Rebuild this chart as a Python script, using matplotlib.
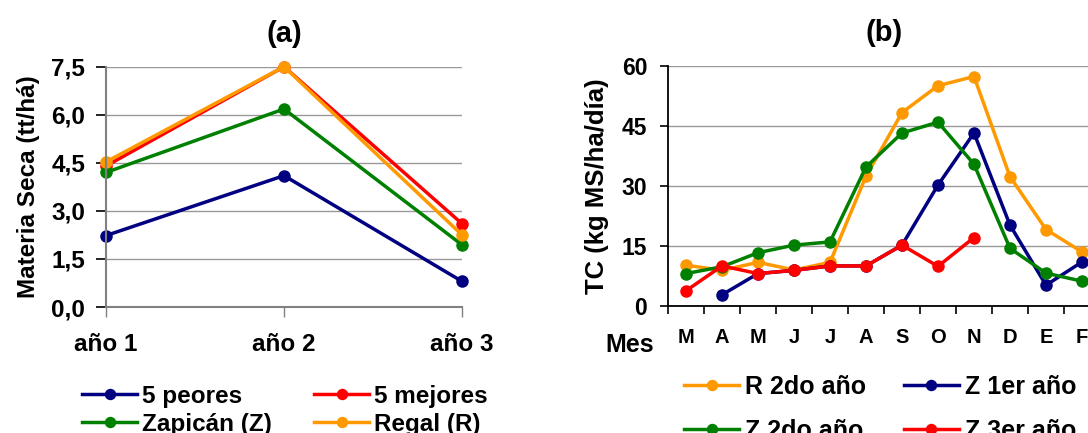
import matplotlib
matplotlib.use("Agg")
import matplotlib.pyplot as plt
import numpy as np

plt.rcParams['font.family'] = ['Liberation Sans', 'DejaVu Sans']
plt.rcParams['font.weight'] = 'bold'

# (a) materia seca por año
anios = ["año 1", "año 2", "año 3"]
peores = [2.23, 4.1, 0.8]
mejores = [4.4, 7.5, 2.6]
zapican = [4.2, 6.18, 1.94]
regal = [4.53, 7.5, 2.25]

# (b) tasa de crecimiento mensual
meses = ["M", "A", "M", "J", "J", "A", "S", "O", "N", "D", "E", "F"]
r_2do = [10.2, 8.9, 10.9, 9.0, 10.9, 32.4, 48.3, 55.0, 57.3, 32.3, 19.1, 13.5]
z_1er = [np.nan, 2.8, 8.1, 8.9, 10.0, 10.0, 15.2, 30.2, 43.2, 20.2, 5.2, 11.0]
z_2do = [8.1, 9.8, 13.3, 15.2, 16.0, 34.7, 43.2, 45.9, 35.4, 14.4, 8.2, 6.2]
z_3er = [3.8, 10.0, 8.1, 8.9, 10.0, 10.0, 15.2, 9.9, 17.1, np.nan, np.nan, np.nan]

AZUL = "#000080"
ROJO = "#ff0000"
VERDE = "#008000"
NARANJA = "#ff9900"

fig = plt.figure(figsize=(10.88, 4.33), dpi=100)

lw = 2.5
ms = 8

# --- (a) ---
ax1 = fig.add_axes([106/1088, 126/433, 356/1088, 240.3/433])
x = np.arange(len(anios))
for y, c, lab in [(peores, AZUL, "5 peores"), (mejores, ROJO, "5 mejores"),
                  (zapican, VERDE, "Zapicán (Z)"), (regal, NARANJA, "Regal (R)")]:
    ax1.plot(x, y, color=c, lw=lw, marker="o", ms=ms, label=lab, clip_on=False)
ax1.set_xlim(0, 2)
ax1.set_ylim(0, 7.5)
ax1.set_xticks(x)
ax1.set_xticklabels(anios)
yt = np.arange(0, 7.6, 1.5)
ax1.set_yticks(yt)
ax1.set_yticklabels([("%.1f" % v).replace(".", ",") for v in yt])
ax1.grid(axis="y", color="#999999", lw=1)
ax1.set_axisbelow(True)
for s in ["top", "right"]:
    ax1.spines[s].set_visible(False)
for s in ["left", "bottom"]:
    ax1.spines[s].set_color("#808080")
    ax1.spines[s].set_linewidth(1.5)
ax1.tick_params(axis="y", length=7, width=1.2, color="black", pad=8, labelsize=17.5)
ax1.tick_params(axis="x", length=7, width=1, color="#808080", pad=12, labelsize=17.5)
ax1.set_ylabel("Materia Seca (tt/há)", fontsize=17.5, fontweight="bold", labelpad=8)
ax1.set_title("(a)", fontsize=21, fontweight="bold", pad=18)
h, l = ax1.get_legend_handles_labels()
ax1.legend([h[0], h[2], h[1], h[3]], [l[0], l[2], l[1], l[3]], ncol=2,
           frameon=False, fontsize=17.5, handlelength=2.25, handletextpad=0.2,
           columnspacing=1.75, labelspacing=0.2, markerscale=0.9,
           loc="upper center", bbox_to_anchor=(285/1088, 1 - 385/433),
           bbox_transform=fig.transFigure, borderpad=0, borderaxespad=0)

# --- (b) ---
ax2 = fig.add_axes([668/1088, 127/433, 432/1088, 240.3/433])
xm = np.arange(len(meses))
for y, c, lab in [(r_2do, NARANJA, "R 2do año"), (z_1er, AZUL, "Z 1er año"),
                  (z_2do, VERDE, "Z 2do año"), (z_3er, ROJO, "Z 3er año")]:
    ax2.plot(xm, y, color=c, lw=lw, marker="o", ms=ms, label=lab, clip_on=False)
ax2.set_xlim(-0.5, 11.5)
ax2.set_ylim(0, 60)
ax2.set_yticks(np.arange(0, 61, 15))
ax2.set_xticks(xm)
ax2.set_xticklabels(meses)
ax2.set_xticks(np.arange(-0.5, 12, 1), minor=True)
ax2.grid(axis="y", color="#999999", lw=1)
ax2.set_axisbelow(True)
for s in ["top", "right"]:
    ax2.spines[s].set_visible(False)
for s in ["left", "bottom"]:
    ax2.spines[s].set_linewidth(1.3)
ax2.tick_params(axis="x", which="major", length=0, pad=16, labelsize=14.5)
ax2.tick_params(axis="x", which="minor", length=6, width=1.2)
ax2.tick_params(axis="y", length=6, width=1.2, pad=9, labelsize=16.5)
ax2.set_ylabel("TC (kg MS/ha/día)", fontsize=18.5, fontweight="bold", labelpad=9)
ax2.set_title("(b)", fontsize=21, fontweight="bold", pad=18)
fig.text(654/1088, 1 - 345/433, "Mes", fontsize=18, fontweight="bold",
         ha="right", va="center")
h, l = ax2.get_legend_handles_labels()
ax2.legend([h[0], h[2], h[1], h[3]], [l[0], l[2], l[1], l[3]], ncol=2,
           frameon=False, fontsize=18, handlelength=2.2, handletextpad=0.25,
           columnspacing=1.5, labelspacing=0.8, markerscale=0.9,
           loc="upper left", bbox_to_anchor=(684/1088, 1 - 375/433),
           bbox_transform=fig.transFigure, borderpad=0, borderaxespad=0)

fig.savefig("out.png", dpi=100)
